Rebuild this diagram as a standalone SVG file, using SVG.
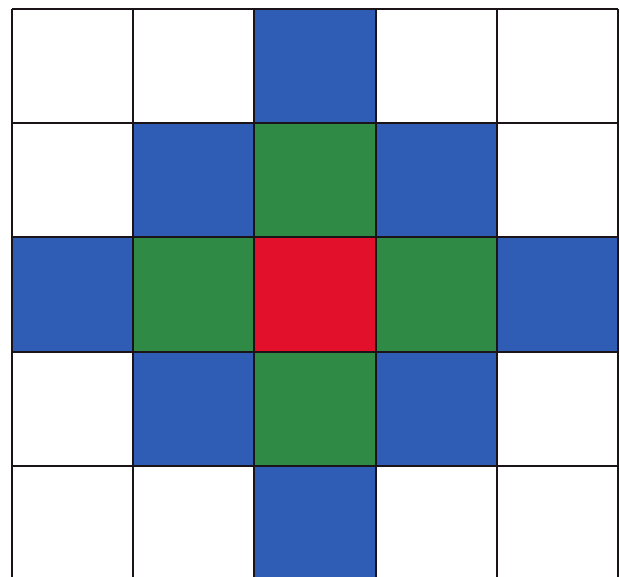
<svg xmlns="http://www.w3.org/2000/svg" width="620" height="577" viewBox="0 0 620 577">
<style>
.b{fill:#2f5cb4}.g{fill:#2e8a44}.r{fill:#e2102a}.w{fill:#ffffff}
.ln{stroke:#1a1418;stroke-width:2;fill:none}
</style>
<rect width="620" height="577" fill="#ffffff"/>
<g id="cells">
<rect class="b" x="254" y="9" width="122" height="114"/>
<rect class="b" x="133" y="123" width="121" height="114"/>
<rect class="g" x="254" y="123" width="122" height="114"/>
<rect class="b" x="376" y="123" width="121" height="114"/>
<rect class="b" x="12" y="237" width="121" height="115"/>
<rect class="g" x="133" y="237" width="121" height="115"/>
<rect class="r" x="254" y="237" width="122" height="115"/>
<rect class="g" x="376" y="237" width="121" height="115"/>
<rect class="b" x="497" y="237" width="121" height="115"/>
<rect class="b" x="133" y="352" width="121" height="114"/>
<rect class="g" x="254" y="352" width="122" height="114"/>
<rect class="b" x="376" y="352" width="121" height="114"/>
<rect class="b" x="254" y="466" width="122" height="111"/>
</g>
<g id="grid" class="ln">
<line x1="12" y1="9" x2="12" y2="577"/>
<line x1="133" y1="9" x2="133" y2="577"/>
<line x1="254" y1="9" x2="254" y2="577"/>
<line x1="376" y1="9" x2="376" y2="577"/>
<line x1="497" y1="9" x2="497" y2="577"/>
<line x1="618" y1="9" x2="618" y2="577"/>
<line x1="12" y1="9" x2="618" y2="9"/>
<line x1="12" y1="123" x2="618" y2="123"/>
<line x1="12" y1="237" x2="618" y2="237"/>
<line x1="12" y1="352" x2="618" y2="352"/>
<line x1="12" y1="466" x2="618" y2="466"/>
</g>
</svg>
